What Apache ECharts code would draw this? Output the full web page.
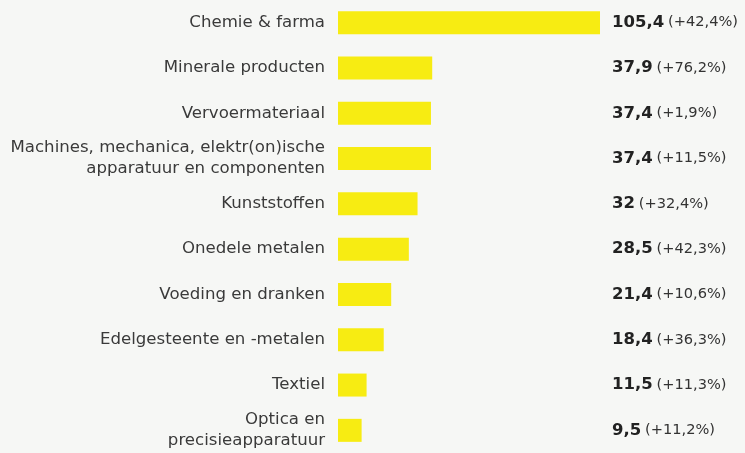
<!DOCTYPE html>
<html><head><meta charset="utf-8">
<script src="https://cdn.jsdelivr.net/npm/echarts@6/dist/echarts.min.js"></script>
<style>html,body{margin:0;padding:0;background:#f6f7f5;}#c{width:745px;height:453px;}</style>
</head><body><div id="c"></div>
<script>
const categories = ["Chemie & farma","Minerale producten","Vervoermateriaal","Machines, mechanica, elektr(on)ische\napparatuur en componenten","Kunststoffen","Onedele metalen","Voeding en dranken","Edelgesteente en -metalen","Textiel","Optica en\nprecisieapparatuur"];
const values = [105.4,37.9,37.4,37.4,32,28.5,21.4,18.4,11.5,9.5];
const valueLabels = ["105,4","37,9","37,4","37,4","32","28,5","21,4","18,4","11,5","9,5"];
const changeLabels = ["(+42,4%)","(+76,2%)","(+1,9%)","(+11,5%)","(+32,4%)","(+42,3%)","(+10,6%)","(+36,3%)","(+11,3%)","(+11,2%)"];
const chart = echarts.init(document.getElementById('c'));
const font = '"DejaVu Sans", sans-serif';
chart.setOption({
  backgroundColor: '#f6f7f5',
  animation: false,
  grid: {left: 338, right: 145, top: -1, height: 455},
  xAxis: {type:'value', min:0, max:105.4, show:false},
  yAxis: [
    {type:'category', data: categories, inverse:true, position:'left',
     axisLine:{show:false}, axisTick:{show:false},
     axisLabel:{margin:13, color:'#3a3a3a', fontSize:16.6, fontFamily:font, lineHeight:21, align:'right'}},
    {type:'category', data: categories.map((c,i)=>i), inverse:true, position:'right',
     axisLine:{show:false}, axisTick:{show:false},
     axisLabel:{margin:12, align:'left', fontFamily:font,
       formatter:(v,i)=>'{b|'+valueLabels[i]+'} {p|'+changeLabels[i]+'}',
       rich:{b:{fontWeight:'bold', fontSize:16.5, color:'#222', fontFamily:font},
             p:{fontSize:14.6, color:'#333', fontFamily:font}}}}
  ],
  series:[{type:'bar', data: values, barWidth:23, itemStyle:{color:'#f7ec12'}, yAxisIndex:0}]
});
</script></body></html>
